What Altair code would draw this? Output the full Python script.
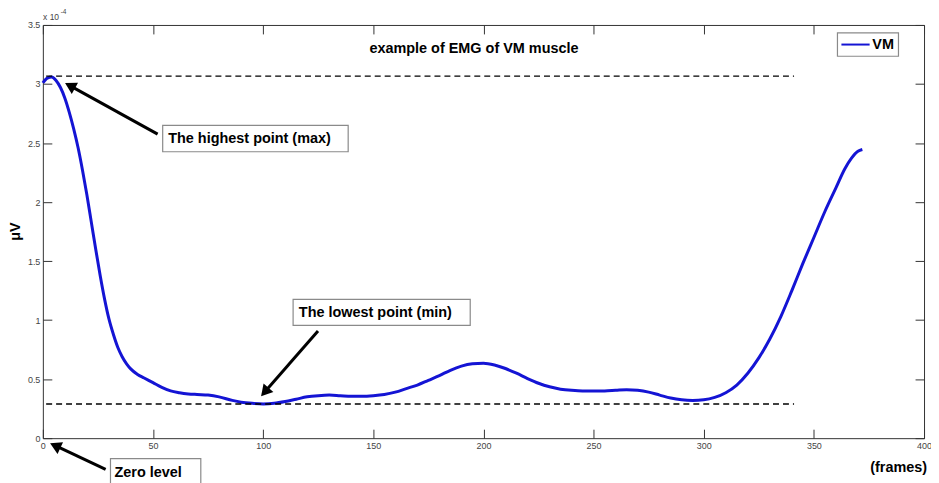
import altair as alt
import pandas as pd

# ---- data (values in units of 1e-4 µV) ----
frames = [0, 2, 4, 6, 8, 10, 12, 14, 16, 18, 20, 22, 24, 26, 28, 30, 32, 34, 36, 38, 40, 43, 46, 50,
          54, 58, 62, 66, 70, 75, 80, 86, 90, 95, 100, 105, 110, 115, 120, 125, 130, 135, 140, 145,
          150, 155, 160, 165, 170, 175, 180, 185, 190, 195, 200, 205, 210, 215, 220, 225, 230, 235,
          240, 245, 250, 255, 260, 265, 270, 275, 280, 285, 290, 295, 300, 305, 310, 315, 320, 325,
          330, 335, 340, 345, 350, 355, 360, 364, 367, 370, 372]
vm = [3.01, 3.05, 3.06, 3.03, 2.97, 2.88, 2.76, 2.62, 2.46, 2.27, 2.06, 1.83, 1.60, 1.38, 1.18, 1.01,
      0.88, 0.77, 0.69, 0.63, 0.585, 0.54, 0.51, 0.47, 0.43, 0.40, 0.385, 0.375, 0.37, 0.365, 0.35,
      0.32, 0.305, 0.295, 0.29, 0.295, 0.31, 0.33, 0.35, 0.36, 0.365, 0.36, 0.355, 0.355, 0.36, 0.37,
      0.39, 0.42, 0.45, 0.49, 0.53, 0.575, 0.61, 0.63, 0.635, 0.62, 0.59, 0.55, 0.505, 0.465, 0.435,
      0.415, 0.405, 0.40, 0.40, 0.40, 0.405, 0.41, 0.405, 0.39, 0.365, 0.34, 0.325, 0.32, 0.325,
      0.345, 0.385, 0.45, 0.55, 0.68, 0.84, 1.03, 1.25, 1.48, 1.70, 1.92, 2.12, 2.28, 2.37, 2.43, 2.445]

max_level = 3.067
min_level = 0.289
level_start = 1.5
level_end = 341

x_ticks = [0, 50, 100, 150, 200, 250, 300, 350, 400]
y_ticks = [0, 0.5, 1, 1.5, 2, 2.5, 3, 3.5]

title_text = "example of EMG of VM muscle"
title_pos = [195.7, 3.292]

# annotation boxes: label, x-left, x-right, y-top, y-bottom, text-x, text-y
ann_labels = ["The highest point (max)", "The lowest point (min)", "Zero level"]
ann_x1 = [54.4, 113.6, 30.7]
ann_x2 = [138.6, 194.0, 71.7]
ann_y1 = [2.650, 1.175, -0.174]
ann_y2 = [2.426, 0.956, -0.47]
ann_tx = [56.9, 116.2, 32.5]
ann_ty = [2.537, 1.056, -0.293]

# arrows: tail -> head
arr_x = [52.1, 124.9, 28.5]
arr_y = [2.575, 0.907, -0.265]
arr_hx = [13.06, 101.3, 6.37]
arr_hy = [2.978, 0.403, -0.070]
arr_angle = [299, 221, 295]

# legend
legend_box = [360.7, 388.4, 3.433, 3.235]
legend_line = [362.5, 375.3, 3.334]
legend_text = ["VM", 376.5, 3.334]

FONT = "Liberation Sans"
BLUE = "#1414d4"

xs = alt.Scale(domain=[0, 400], nice=False, zero=False)
ys = alt.Scale(domain=[0, 3.5], nice=False, zero=False)

df = pd.DataFrame({"frame": frames, "vm": vm})

line = alt.Chart(df).mark_line(color=BLUE, strokeWidth=3, interpolate="monotone").encode(
    x=alt.X("frame:Q", scale=xs, axis=alt.Axis(
        orient="bottom", values=x_ticks, domain=False, ticks=False, grid=False, labelFlush=False,
        labelOverlap=False, labelFontSize=9, labelColor="#444", labelFont=FONT, labelPadding=3,
        title="(frames)", titleFont=FONT, titleFontSize=14.5, titleFontWeight="bold",
        titleColor="#000", titleX=859, titleY=29, titleAlign="center", titleBaseline="middle",
        titleAnchor="start")),
    y=alt.Y("vm:Q", scale=ys, axis=alt.Axis(
        orient="left", values=y_ticks, domain=False, ticks=False, grid=False, labelOverlap=False,
        format="~g", labelFontSize=9, labelColor="#444", labelFont=FONT, labelPadding=3,
        title="μV", titleFont=FONT, titleFontSize=14.5, titleFontWeight="bold", titleColor="#000",
        titleX=-27, titleY=207, titleAngle=270, titleAlign="center", titleBaseline="middle",
        titleAnchor="start")),
)

tick_axis = dict(values=x_ticks, domain=False, labels=False, ticks=True, tickSize=9,
                 tickColor="#333", tickWidth=1, grid=False, title=None, offset=-9)
tick_axis_y = dict(tick_axis, values=y_ticks)

levels_df_max = pd.DataFrame({"x1": [level_start], "x2": [level_end], "y": [max_level]})
levels_df_min = pd.DataFrame({"x1": [level_start], "x2": [level_end], "y": [min_level]})

rule_max = alt.Chart(levels_df_max).mark_rule(color="#000", strokeWidth=1.4, strokeDash=[6, 4]).encode(
    x=alt.X("x1:Q", scale=xs, axis=alt.Axis(orient="bottom", **tick_axis)),
    x2="x2:Q",
    y=alt.Y("y:Q", scale=ys, axis=alt.Axis(orient="left", **tick_axis_y)),
)
rule_min = alt.Chart(levels_df_min).mark_rule(color="#000", strokeWidth=1.4, strokeDash=[6, 4]).encode(
    x=alt.X("x1:Q", scale=xs, axis=alt.Axis(orient="top", **tick_axis)),
    x2="x2:Q",
    y=alt.Y("y:Q", scale=ys, axis=alt.Axis(orient="right", **tick_axis_y)),
)

arr_df = pd.DataFrame({"x": arr_x, "y": arr_y, "hx": arr_hx, "hy": arr_hy, "ang": arr_angle})
shafts = alt.Chart(arr_df).mark_rule(color="#000", strokeWidth=3).encode(
    x=alt.X("x:Q", scale=xs, axis=None), y=alt.Y("y:Q", scale=ys, axis=None),
    x2="hx:Q", y2="hy:Q")
heads = alt.Chart(arr_df).mark_point(shape="triangle", filled=True, color="#000", size=170, opacity=1).encode(
    x=alt.X("hx:Q", scale=xs, axis=None), y=alt.Y("hy:Q", scale=ys, axis=None),
    angle=alt.Angle("ang:Q", scale=None))

box_df = pd.DataFrame({"label": ann_labels, "x1": ann_x1, "x2": ann_x2, "y1": ann_y1, "y2": ann_y2,
                       "tx": ann_tx, "ty": ann_ty})
boxes = alt.Chart(box_df).mark_rect(fill="#fff", stroke="#8a8a8a", strokeWidth=1.2).encode(
    x=alt.X("x1:Q", scale=xs, axis=None), x2="x2:Q",
    y=alt.Y("y1:Q", scale=ys, axis=None), y2="y2:Q")
box_text = alt.Chart(box_df).mark_text(align="left", baseline="middle", font=FONT, fontSize=14.5,
                                       fontWeight="bold", color="#000").encode(
    x=alt.X("tx:Q", scale=xs, axis=None), y=alt.Y("ty:Q", scale=ys, axis=None), text="label:N")

title_df = pd.DataFrame({"x": [title_pos[0]], "y": [title_pos[1]], "t": [title_text]})
title = alt.Chart(title_df).mark_text(align="center", baseline="middle", font=FONT, fontSize=14.5,
                                      fontWeight="bold", color="#000").encode(
    x=alt.X("x:Q", scale=xs, axis=None), y=alt.Y("y:Q", scale=ys, axis=None), text="t:N")

exp_df = pd.DataFrame({"x": [0.1, 8.1], "y": [3.57, 3.61], "t": ["x 10", "-4"], "s": [8.5, 6.5]})
exponent = alt.Chart(exp_df).mark_text(align="left", baseline="middle", font=FONT, color="#444").encode(
    x=alt.X("x:Q", scale=xs, axis=None), y=alt.Y("y:Q", scale=ys, axis=None), text="t:N",
    size=alt.Size("s:Q", scale=None))

leg_box_df = pd.DataFrame({"x1": [legend_box[0]], "x2": [legend_box[1]], "y1": [legend_box[2]], "y2": [legend_box[3]]})
leg_box = alt.Chart(leg_box_df).mark_rect(fill="#fff", stroke="#8a8a8a", strokeWidth=1.2).encode(
    x=alt.X("x1:Q", scale=xs, axis=None), x2="x2:Q",
    y=alt.Y("y1:Q", scale=ys, axis=None), y2="y2:Q")
leg_line_df = pd.DataFrame({"x1": [legend_line[0]], "x2": [legend_line[1]], "y": [legend_line[2]]})
leg_line = alt.Chart(leg_line_df).mark_rule(color=BLUE, strokeWidth=2).encode(
    x=alt.X("x1:Q", scale=xs, axis=None), x2="x2:Q", y=alt.Y("y:Q", scale=ys, axis=None))
leg_text_df = pd.DataFrame({"t": [legend_text[0]], "x": [legend_text[1]], "y": [legend_text[2]]})
leg_text = alt.Chart(leg_text_df).mark_text(align="left", baseline="middle", font=FONT, fontSize=14.5,
                                            fontWeight="bold", color="#000").encode(
    x=alt.X("x:Q", scale=xs, axis=None), y=alt.Y("y:Q", scale=ys, axis=None), text="t:N")

chart = alt.layer(
    line, rule_max, rule_min, shafts, heads, boxes, box_text, title, exponent, leg_box, leg_line, leg_text
).resolve_axis(x="independent", y="independent").properties(
    width=885, height=415,
    autosize=alt.AutoSizeParams(type="none"),
    padding={"left": 35, "top": 16, "right": 7, "bottom": 44},
    background="#ffffff",
).configure_view(stroke="#333", strokeWidth=1)

chart.save("out.html", embed_options={"renderer": "svg", "actions": False})
